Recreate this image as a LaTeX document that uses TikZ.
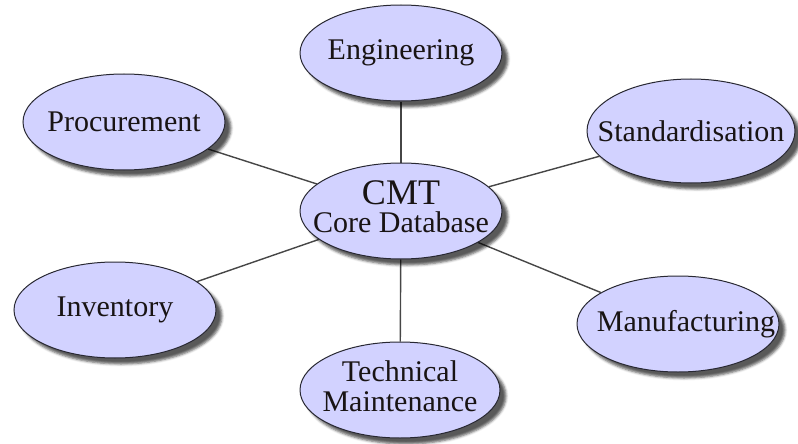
\documentclass[tikz,border=0pt]{standalone}
\usepackage{fontspec}
\setmainfont{Liberation Serif}
\usepackage{xcolor}
\usetikzlibrary{shapes.geometric, shadows.blur, backgrounds}
\definecolor{bubble-fill}{RGB}{210,210,255}
\definecolor{bubble-edge}{RGB}{40,40,50}
\definecolor{spoke-grey}{RGB}{70,70,70}
\definecolor{label-ink}{RGB}{25,20,20}
\newcommand{\nowidth}[1]{\makebox[0pt]{#1}}

\begin{document}
\begin{tikzpicture}[x=1pt, y=-1pt,
  bubble/.style={ellipse, draw=bubble-edge, line width=1pt, fill=bubble-fill,
    minimum width=202pt, minimum height=96pt, inner sep=0pt,
    text=label-ink, font=\fontsize{30}{30}\selectfont,
    blur shadow={shadow xshift=6pt, shadow yshift=-6pt, shadow blur radius=2.5pt, shadow opacity=65}},
  spoke/.style={draw=spoke-grey, line width=1.4pt}]
  \useasboundingbox (0,0) rectangle (798,444);

  % Hub
  \node[bubble] (cmt) at (401,211)
    {\nowidth{\begin{tabular}{@{}c@{}}{\fontsize{36}{28}\selectfont CMT}\\[-2pt] Core Database\end{tabular}}};

  % Satellites
  \node[bubble] (eng) at (401,53) {\nowidth{Engineering}};
  \node[bubble] (proc) at (124,122) {\nowidth{Procurement}};
  \node[bubble, minimum width=208pt, minimum height=104pt] (stand) at (691,131) {\nowidth{Standardisation}};
  \node[bubble] (inv) at (115,310) {\nowidth{Inventory}};
  \node[bubble] (manu) at (678,324) {\nowidth{\hspace{16pt}Manufacturing}};
  \node[bubble, minimum width=200pt] (tech) at (400,390)
    {\nowidth{\begin{tabular}{@{}c@{}}Technical\\ Maintenance\end{tabular}}};

  % Spokes
  \begin{scope}[on background layer]
    \draw[spoke] (cmt) -- (eng);
    \draw[spoke] (cmt) -- (proc);
    \draw[spoke] (cmt) -- (stand);
    \draw[spoke] (cmt) -- (inv);
    \draw[spoke] (cmt) -- (manu);
    \draw[spoke] (cmt) -- (tech);
  \end{scope}
\end{tikzpicture}
\end{document}
